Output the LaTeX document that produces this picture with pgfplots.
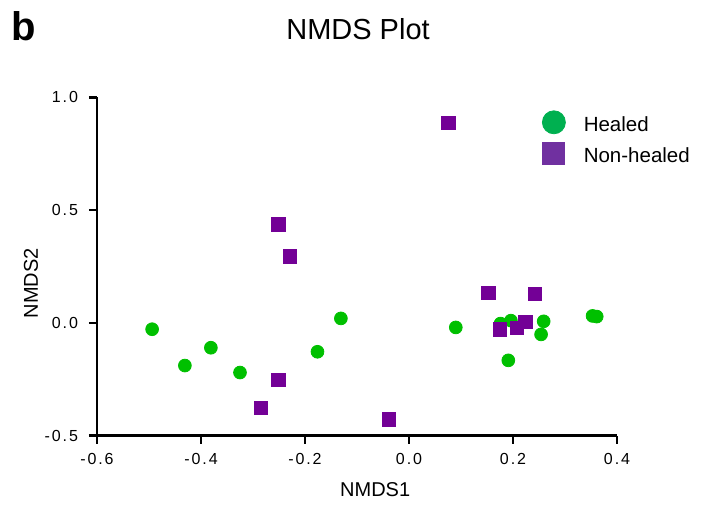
\documentclass[border=0pt]{standalone}
\usepackage{fontspec}
\setmainfont{Liberation Sans}
\newfontfamily\tickfont[LetterSpace=12]{Liberation Sans}
\usepackage{pgfplots}
\pgfplotsset{compat=1.18}

\definecolor{ptG}{RGB}{0,192,0}
\definecolor{ptP}{RGB}{115,0,150}
\definecolor{legG}{RGB}{0,176,80}
\definecolor{legP}{RGB}{112,48,160}

\begin{document}
\begin{tikzpicture}
\path[use as bounding box] (-48.5pt,-34.15pt) rectangle (304pt,217.85pt);
\begin{axis}[
    name=ax,
    scale only axis,
    width=260pt, height=169.2pt,
    xmin=-0.6, xmax=0.4, ymin=-0.5, ymax=1.0,
    clip=false,
    axis x line*=bottom, axis y line*=left,
    axis line style={-, line width=1.25pt},
    xtick={-0.6,-0.4,-0.2,0,0.2,0.4},
    xticklabels={-0.6,-0.4,-0.2,0.0,0.2,0.4},
    ytick={-0.5,0,0.5,1.0},
    yticklabels={-0.5,0.0,0.5,1.0},
    minor tick num=0,
    tick align=outside,
    major tick length=4pt,
    tick style={line width=1.25pt, black},
    tick label style={font=\tickfont\fontsize{8}{9}\selectfont},
    xticklabel style={yshift=-1.5pt},
    yticklabel style={xshift=-2pt},
    legend style={draw=none, fill=none, inner sep=0pt,
        at={(rel axis cs:0.855,0.9625)}, anchor=north west,
        font=\fontsize{10.25}{12}\selectfont, row sep=2pt,
        nodes={yshift=-1.5pt},
        /tikz/every odd column/.style={column sep=7pt}},
    legend cell align=left,
]
\addplot[only marks, mark=*, mark size=3.2pt, color=ptG, forget plot] coordinates {
(-0.494,-0.028) (-0.431,-0.189) (-0.381,-0.110) (-0.325,-0.220)
(-0.176,-0.128) (-0.131,0.020) (0.090,-0.020) (0.176,-0.003)
(0.196,0.010) (0.259,0.007) (0.254,-0.051) (0.191,-0.166)
(0.353,0.031) (0.361,0.028)
};
\addplot[only marks, mark=square*, mark size=3.35pt, color=ptP, forget plot] coordinates {
(0.076,0.887) (-0.251,0.437) (-0.229,0.294) (-0.251,-0.252)
(-0.285,-0.377) (-0.039,-0.428) (0.153,0.133) (0.242,0.128)
(0.175,-0.029) (0.208,-0.021) (0.224,0.004)
};
\addlegendimage{legend image code/.code={\fill[legG] (5.75pt,0pt) circle (5.75pt);}}
\addlegendentry{Healed}
\addlegendimage{legend image code/.code={\fill[legP] (0pt,-5.4pt) rectangle (10.8pt,5.4pt);}}
\addlegendentry{Non-healed}
\node[font=\fontsize{14.5}{16}\selectfont] at (rel axis cs:0.502,1.202) {NMDS Plot};
\node[font=\bfseries\fontsize{20}{22}\selectfont] at (rel axis cs:-0.140,1.211) {b};
\node[font=\fontsize{10}{12}\selectfont] at (rel axis cs:0.535,-0.16) {NMDS1};
\node[font=\fontsize{10}{12}\selectfont, rotate=90] at (rel axis cs:-0.127,0.45) {NMDS2};
\end{axis}
\end{tikzpicture}
\end{document}
